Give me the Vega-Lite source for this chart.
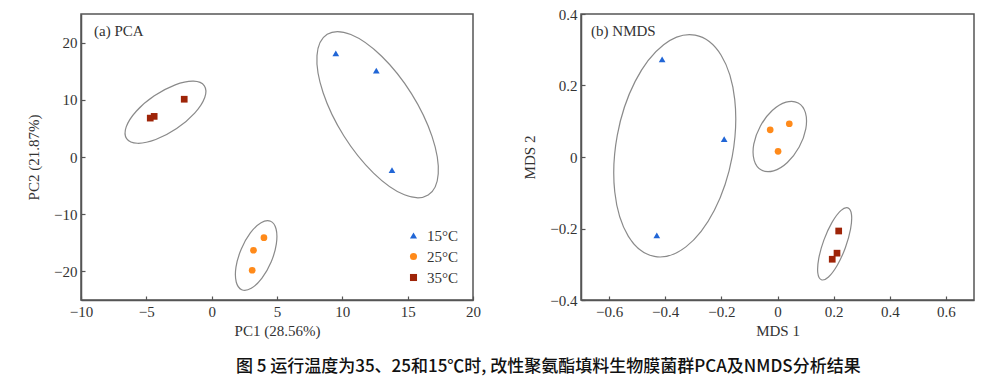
{
  "$schema": "https://vega.github.io/schema/vega-lite/v6.json",
  "padding": {"left": 25, "top": 6, "right": 5, "bottom": 5},
  "background": "white",
  "config": {
    "view": {"stroke": "#555555", "strokeWidth": 1.5},
    "font": "Liberation Serif",
    "axis": {
      "labelFont": "Liberation Serif", "labelFontSize": 15, "labelColor": "#333333",
      "titleFont": "Liberation Serif", "titleFontSize": 15, "titleFontWeight": "normal", "titleColor": "#333333",
      "grid": false, "domainColor": "#555555", "domainWidth": 1.5,
      "tickColor": "#555555", "tickSize": -4, "tickWidth": 1.2, "labelPadding": 8, "labelFlush": false, "labelOverlap": false
    },
    "legend": {"labelFont": "Liberation Serif", "labelFontSize": 15, "labelColor": "#333333"},
    "title": {"font": "Noto Sans CJK SC"}
  },
  "title": {
    "text": "图 5 运行温度为35、25和15℃时, 改性聚氨酯填料生物膜菌群PCA及NMDS分析结果",
    "orient": "bottom", "anchor": "middle", "fontSize": 17, "fontWeight": 500, "color": "#111111", "offset": 20, "dx": 48
  },
  "datasets": {
    "pcaPts": [
      {"PC1": 9.5, "PC2": 18.1, "temp": "15°C"},
      {"PC1": 12.6, "PC2": 15.1, "temp": "15°C"},
      {"PC1": 13.8, "PC2": -2.3, "temp": "15°C"},
      {"PC1": 4.0, "PC2": -14.1, "temp": "25°C"},
      {"PC1": 3.2, "PC2": -16.3, "temp": "25°C"},
      {"PC1": 3.1, "PC2": -19.8, "temp": "25°C"},
      {"PC1": -2.1, "PC2": 10.1, "temp": "35°C"},
      {"PC1": -4.4, "PC2": 7.1, "temp": "35°C"},
      {"PC1": -4.7, "PC2": 6.8, "temp": "35°C"}
    ],
    "pcaEll": [
      {"g": "15", "i": 0, "x": 16.57, "y": -6.65},
      {"g": "15", "i": 1, "x": 14.75, "y": -6.61},
      {"g": "15", "i": 2, "x": 12.39, "y": -2.81},
      {"g": "15", "i": 3, "x": 10.11, "y": 3.72},
      {"g": "15", "i": 4, "x": 8.53, "y": 11.24},
      {"g": "15", "i": 5, "x": 8.06, "y": 17.73},
      {"g": "15", "i": 6, "x": 8.84, "y": 21.45},
      {"g": "15", "i": 7, "x": 10.65, "y": 21.41},
      {"g": "15", "i": 8, "x": 13.01, "y": 17.61},
      {"g": "15", "i": 9, "x": 15.29, "y": 11.08},
      {"g": "15", "i": 10, "x": 16.87, "y": 3.56},
      {"g": "15", "i": 11, "x": 17.34, "y": -2.93},
      {"g": "35", "i": 0, "x": -0.56, "y": 12.45},
      {"g": "35", "i": 1, "x": -0.53, "y": 10.4},
      {"g": "35", "i": 2, "x": -1.3, "y": 7.67},
      {"g": "35", "i": 3, "x": -2.68, "y": 4.97},
      {"g": "35", "i": 4, "x": -4.28, "y": 3.05},
      {"g": "35", "i": 5, "x": -5.68, "y": 2.4},
      {"g": "35", "i": 6, "x": -6.51, "y": 3.21},
      {"g": "35", "i": 7, "x": -6.54, "y": 5.26},
      {"g": "35", "i": 8, "x": -5.77, "y": 8.0},
      {"g": "35", "i": 9, "x": -4.39, "y": 10.69},
      {"g": "35", "i": 10, "x": -2.79, "y": 12.62},
      {"g": "35", "i": 11, "x": -1.39, "y": 13.26},
      {"g": "25", "i": 0, "x": 4.51, "y": -11.24},
      {"g": "25", "i": 1, "x": 4.93, "y": -12.59},
      {"g": "25", "i": 2, "x": 4.95, "y": -15.18},
      {"g": "25", "i": 3, "x": 4.56, "y": -18.31},
      {"g": "25", "i": 4, "x": 3.85, "y": -21.16},
      {"g": "25", "i": 5, "x": 3.03, "y": -22.95},
      {"g": "25", "i": 6, "x": 2.3, "y": -23.2},
      {"g": "25", "i": 7, "x": 1.88, "y": -21.85},
      {"g": "25", "i": 8, "x": 1.86, "y": -19.26},
      {"g": "25", "i": 9, "x": 2.26, "y": -16.13},
      {"g": "25", "i": 10, "x": 2.96, "y": -13.28},
      {"g": "25", "i": 11, "x": 3.78, "y": -11.49}
    ],
    "nmdsPts": [
      {"MDS1": -0.411, "MDS2": 0.273, "temp": "15°C"},
      {"MDS1": -0.19, "MDS2": 0.05, "temp": "15°C"},
      {"MDS1": -0.43, "MDS2": -0.219, "temp": "15°C"},
      {"MDS1": -0.026, "MDS2": 0.076, "temp": "25°C"},
      {"MDS1": 0.042, "MDS2": 0.093, "temp": "25°C"},
      {"MDS1": 0.002, "MDS2": 0.016, "temp": "25°C"},
      {"MDS1": 0.218, "MDS2": -0.207, "temp": "35°C"},
      {"MDS1": 0.212, "MDS2": -0.269, "temp": "35°C"},
      {"MDS1": 0.195, "MDS2": -0.286, "temp": "35°C"}
    ],
    "nmdsEll": [
      {"g": "15", "i": 0, "x": -0.2935, "y": 0.3408},
      {"g": "15", "i": 1, "x": -0.2008, "y": 0.2846},
      {"g": "15", "i": 2, "x": -0.1523, "y": 0.1606},
      {"g": "15", "i": 3, "x": -0.1612, "y": 0.0019},
      {"g": "15", "i": 4, "x": -0.2249, "y": -0.1489},
      {"g": "15", "i": 5, "x": -0.3264, "y": -0.2514},
      {"g": "15", "i": 6, "x": -0.4385, "y": -0.2782},
      {"g": "15", "i": 7, "x": -0.5312, "y": -0.222},
      {"g": "15", "i": 8, "x": -0.5797, "y": -0.098},
      {"g": "15", "i": 9, "x": -0.5708, "y": 0.0607},
      {"g": "15", "i": 10, "x": -0.5071, "y": 0.2115},
      {"g": "15", "i": 11, "x": -0.4056, "y": 0.314},
      {"g": "25", "i": 0, "x": 0.0737, "y": 0.1512},
      {"g": "25", "i": 1, "x": 0.0995, "y": 0.1239},
      {"g": "25", "i": 2, "x": 0.1008, "y": 0.0787},
      {"g": "25", "i": 3, "x": 0.0772, "y": 0.0278},
      {"g": "25", "i": 4, "x": 0.0352, "y": -0.0153},
      {"g": "25", "i": 5, "x": -0.014, "y": -0.0388},
      {"g": "25", "i": 6, "x": -0.0573, "y": -0.0366},
      {"g": "25", "i": 7, "x": -0.0831, "y": -0.0093},
      {"g": "25", "i": 8, "x": -0.0845, "y": 0.0359},
      {"g": "25", "i": 9, "x": -0.0608, "y": 0.0869},
      {"g": "25", "i": 10, "x": -0.0188, "y": 0.1299},
      {"g": "25", "i": 11, "x": 0.0304, "y": 0.1534},
      {"g": "35", "i": 0, "x": 0.2509, "y": -0.1422},
      {"g": "35", "i": 1, "x": 0.2636, "y": -0.1611},
      {"g": "35", "i": 2, "x": 0.2602, "y": -0.202},
      {"g": "35", "i": 3, "x": 0.2417, "y": -0.2538},
      {"g": "35", "i": 4, "x": 0.213, "y": -0.3026},
      {"g": "35", "i": 5, "x": 0.1817, "y": -0.3355},
      {"g": "35", "i": 6, "x": 0.1563, "y": -0.3434},
      {"g": "35", "i": 7, "x": 0.1436, "y": -0.3245},
      {"g": "35", "i": 8, "x": 0.147, "y": -0.2836},
      {"g": "35", "i": 9, "x": 0.1655, "y": -0.2318},
      {"g": "35", "i": 10, "x": 0.1942, "y": -0.183},
      {"g": "35", "i": 11, "x": 0.2255, "y": -0.1501}
    ]
  },
  "hconcat": [
    {
      "width": 392,
      "height": 286,
      "layer": [
        {
          "data": {"name": "pcaEll"},
          "mark": {"type": "line", "interpolate": "cardinal-closed", "color": "#8a8a8a", "strokeWidth": 1.2},
          "encoding": {
            "x": {"field": "x", "type": "quantitative", "scale": {"domain": [-10, 20], "nice": false, "zero": false}, "axis": {"title": "PC1 (28.56%)", "values": [-10, -5, 0, 5, 10, 15, 20], "format": "~g"}},
            "y": {"field": "y", "type": "quantitative", "scale": {"domain": [-25, 25], "nice": false, "zero": false}, "axis": {"title": "PC2 (21.87%)", "values": [-20, -10, 0, 10, 20], "format": "~g", "titlePadding": 12}},
            "detail": {"field": "g"},
            "order": {"field": "i", "type": "quantitative"}
          }
        },
        {
          "data": {"name": "pcaPts"},
          "mark": {"type": "point", "filled": true, "opacity": 1, "size": 45},
          "encoding": {
            "x": {"field": "PC1", "type": "quantitative"},
            "y": {"field": "PC2", "type": "quantitative"},
            "color": {"field": "temp", "type": "nominal", "scale": {"domain": ["15°C", "25°C", "35°C"], "range": ["#2166d6", "#ff8a1a", "#9e2408"]},
              "legend": {"title": null, "orient": "bottom-right", "offset": 14, "symbolSize": 50, "rowPadding": 5, "labelOffset": 6, "symbolOpacity": 1}},
            "shape": {"field": "temp", "type": "nominal", "scale": {"domain": ["15°C", "25°C", "35°C"], "range": ["triangle-up", "circle", "square"]},
              "legend": {"title": null, "orient": "bottom-right", "offset": 14, "symbolSize": 50, "rowPadding": 5, "labelOffset": 6, "symbolOpacity": 1}}
          }
        },
        {
          "mark": {"type": "text", "align": "left", "baseline": "middle", "font": "Liberation Serif", "fontSize": 15, "color": "#333333"},
          "data": {"values": [{"label": "(a) PCA"}]},
          "encoding": {
            "x": {"datum": -9.0, "type": "quantitative"},
            "y": {"datum": 22.0, "type": "quantitative"},
            "text": {"field": "label"}
          }
        }
      ]
    },
    {
      "width": 393,
      "height": 286,
      "layer": [
        {
          "data": {"name": "nmdsEll"},
          "mark": {"type": "line", "interpolate": "cardinal-closed", "color": "#8a8a8a", "strokeWidth": 1.2},
          "encoding": {
            "x": {"field": "x", "type": "quantitative", "scale": {"domain": [-0.7, 0.7], "nice": false, "zero": false}, "axis": {"title": "MDS 1", "values": [-0.6, -0.4, -0.2, 0, 0.2, 0.4, 0.6], "format": "~g"}},
            "y": {"field": "y", "type": "quantitative", "scale": {"domain": [-0.4, 0.4], "nice": false, "zero": false}, "axis": {"title": "MDS 2", "values": [-0.4, -0.2, 0, 0.2, 0.4], "format": "~g", "titlePadding": 12}},
            "detail": {"field": "g"},
            "order": {"field": "i", "type": "quantitative"}
          }
        },
        {
          "data": {"name": "nmdsPts"},
          "mark": {"type": "point", "filled": true, "opacity": 1, "size": 45},
          "encoding": {
            "x": {"field": "MDS1", "type": "quantitative"},
            "y": {"field": "MDS2", "type": "quantitative"},
            "color": {"field": "temp", "type": "nominal", "scale": {"domain": ["15°C", "25°C", "35°C"], "range": ["#2166d6", "#ff8a1a", "#9e2408"]}, "legend": null},
            "shape": {"field": "temp", "type": "nominal", "scale": {"domain": ["15°C", "25°C", "35°C"], "range": ["triangle-up", "circle", "square"]}, "legend": null}
          }
        },
        {
          "mark": {"type": "text", "align": "left", "baseline": "middle", "font": "Liberation Serif", "fontSize": 15, "color": "#333333"},
          "data": {"values": [{"label": "(b) NMDS"}]},
          "encoding": {
            "x": {"datum": -0.664, "type": "quantitative"},
            "y": {"datum": 0.353, "type": "quantitative"},
            "text": {"field": "label"}
          }
        }
      ]
    }
  ],
  "spacing": 40,
  "resolve": {"scale": {"color": "independent", "shape": "independent"}, "legend": {"color": "independent", "shape": "independent"}}
}
